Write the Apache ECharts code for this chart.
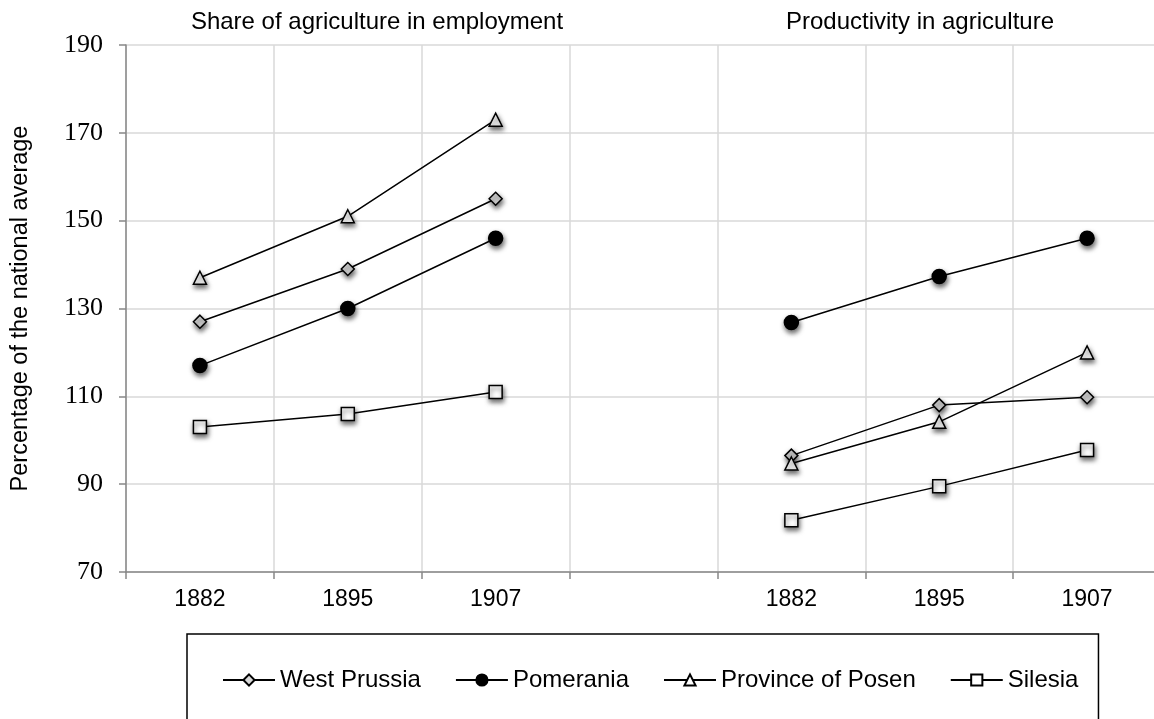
<!DOCTYPE html>
<html>
<head>
<meta charset="utf-8">
<script src="https://cdn.jsdelivr.net/npm/echarts@6/dist/echarts.min.js"></script>
<style>
  html, body { margin: 0; padding: 0; background: #fff; }
  #chart { width: 1154px; height: 719px; }
</style>
</head>
<body>
<div id="chart"></div>
<script>
const years = ['1882', '1895', '1907']
const panelTitles = ['Share of agriculture in employment', 'Productivity in agriculture']
const yTicks = { min: 70, max: 190, interval: 20 }

// share of agriculture in employment (left panel)
const westPrussiaShare = [127, 139, 155]
const pomeraniaShare = [117, 130, 146]
const posenShare = [137, 151, 173]
const silesiaShare = [103, 106, 111]

// productivity in agriculture (right panel)
const westPrussiaProd = [96.5, 108, 109.8]
const pomeraniaProd = [126.8, 137.3, 146]
const posenProd = [94.7, 104.2, 120]
const silesiaProd = [81.8, 89.5, 97.8]

const SANS = 'Liberation Sans, Arial, sans-serif'
const SERIF = 'Liberation Serif, Times New Roman, serif'

// one blank category separates the two panels
const categories = [...years, '', ...years]
const joinPanels = (left, right) => [...left, '-', ...right]

const regions = [
  { name: 'West Prussia', symbol: 'diamond', size: 13, fill: '#d9d9d9', left: westPrussiaShare, right: westPrussiaProd },
  { name: 'Pomerania', symbol: 'circle', size: 14, fill: '#000000', left: pomeraniaShare, right: pomeraniaProd },
  { name: 'Province of Posen', symbol: 'triangle', size: 13, fill: '#ffffff', left: posenShare, right: posenProd },
  { name: 'Silesia', symbol: 'rect', size: 13, fill: '#ffffff', left: silesiaShare, right: silesiaProd }
]

const chart = echarts.init(document.getElementById('chart'))

chart.setOption({
  animation: false,
  backgroundColor: '#ffffff',
  grid: {
    left: 126,
    width: 1035,
    top: 45,
    height: 527,
    containLabel: false,
    outerBoundsMode: 'none'
  },
  graphic: [
    {
      type: 'text',
      x: 377,
      y: 22,
      style: { text: panelTitles[0], font: `24px ${SANS}`, fill: '#000', align: 'center', verticalAlign: 'middle' }
    },
    {
      type: 'text',
      x: 920,
      y: 22,
      style: { text: panelTitles[1], font: `24px ${SANS}`, fill: '#000', align: 'center', verticalAlign: 'middle' }
    }
  ],
  xAxis: {
    type: 'category',
    data: categories,
    boundaryGap: true,
    axisLine: { lineStyle: { color: '#888888', width: 1.5 } },
    axisTick: { show: true, length: 7, lineStyle: { color: '#888888', width: 1.5 } },
    axisLabel: {
      interval: 0,
      margin: 16,
      fontSize: 23,
      fontFamily: SANS,
      color: '#000'
    },
    splitLine: { show: true, lineStyle: { color: '#d9d9d9', width: 1.5 } }
  },
  yAxis: {
    type: 'value',
    min: yTicks.min,
    max: yTicks.max,
    interval: yTicks.interval,
    name: 'Percentage of the national average',
    nameLocation: 'middle',
    nameGap: 93,
    nameTextStyle: { fontSize: 23.5, fontFamily: SANS, color: '#000' },
    axisLine: { show: true, lineStyle: { color: '#888888', width: 1.5 } },
    axisTick: { show: true, length: 7, lineStyle: { color: '#888888', width: 1.5 } },
    axisLabel: {
      margin: 23,
      fontSize: 26,
      fontFamily: SERIF,
      color: '#000'
    },
    splitLine: { show: true, lineStyle: { color: '#d9d9d9', width: 1.5 } }
  },
  legend: {
    data: regions.map((r) => r.name),
    left: 187,
    top: 634,
    padding: [34, 20, 40, 35],
    borderColor: '#000',
    borderWidth: 1.5,
    itemGap: 34,
    itemWidth: 52,
    itemHeight: 14,
    textStyle: { fontSize: 24, fontFamily: SANS, color: '#000' },
    itemStyle: { shadowBlur: 0, shadowOffsetX: 0, shadowOffsetY: 0, shadowColor: 'transparent' }
  },
  series: regions.map((r) => ({
    name: r.name,
    type: 'line',
    data: joinPanels(r.left, r.right),
    connectNulls: false,
    symbol: r.symbol,
    symbolSize: r.size,
    showAllSymbol: true,
    lineStyle: { color: '#000', width: 1.5 },
    itemStyle: {
      color: r.fill,
      borderColor: '#000',
      borderWidth: 1.5,
      shadowColor: 'rgba(0,0,0,0.6)',
      shadowBlur: 5,
      shadowOffsetX: 1,
      shadowOffsetY: 3
    },
    emphasis: { disabled: true }
  }))
})
</script>
</body>
</html>
